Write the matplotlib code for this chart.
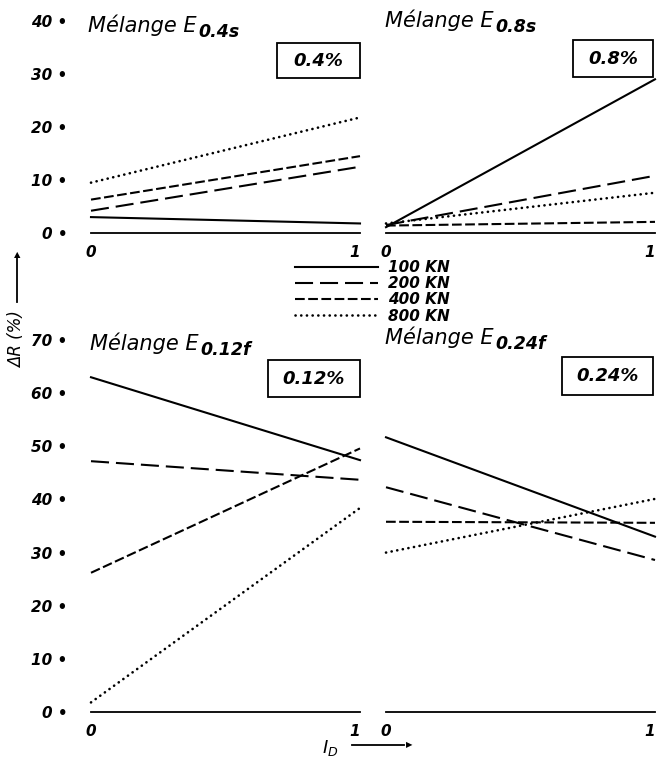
import numpy as np
import matplotlib.pyplot as plt
from matplotlib.patches import Rectangle

plt.rcParams['font.family'] = ['DejaVu Sans']
plt.rcParams['mathtext.fontset'] = 'custom'
plt.rcParams['mathtext.rm'] = 'DejaVu Sans:italic'
plt.rcParams['mathtext.it'] = 'DejaVu Sans:italic'
plt.rcParams['lines.scale_dashes'] = False

# valeurs de ΔR (%) pour I_D = 0 et I_D = 1
i_d = [0, 1]
charges = ['100 KN', '200 KN', '400 KN', '800 KN']
dr_e04s = [[3.0, 1.8], [4.2, 12.5], [6.3, 14.5], [9.5, 21.8]]
dr_e08s = [[1.1, 29.0], [1.5, 10.8], [1.4, 2.1], [1.8, 7.6]]
dr_e012f = [[63.0, 47.4], [47.2, 43.7], [26.2, 49.6], [1.8, 38.4]]
dr_e024f = [[51.7, 33.0], [42.3, 28.6], [35.8, 35.6], [30.0, 40.1]]

melanges = ['0.4s', '0.8s', '0.12f', '0.24f']
teneurs = ['0.4%', '0.8%', '0.12%', '0.24%']
yticks_haut = [0, 10, 20, 30, 40]
yticks_bas = [0, 10, 20, 30, 40, 50, 60, 70]

styles = ['-', (0, (13, 5)), (0, (7, 2.5)), (0, (0.1, 4.0))]

W, H = 658, 757
fig = plt.figure(figsize=(W / 100, H / 100), dpi=100)


def fx(x):
    return x / W


def fy(y):
    return 1 - y / H


def panneau(left, top_px, bot_px, ylim, data, yticks):
    ax = fig.add_axes([fx(left), fy(bot_px), 269 / W, (bot_px - top_px) / H])
    ax.set_xlim(0, 1)
    ax.set_ylim(*ylim)
    for s in ax.spines.values():
        s.set_visible(False)
    ax.plot([0, 1], [0, 0], color='black', lw=1.3, clip_on=False)
    lignes = []
    for vals, ls, lab in zip(data, styles, charges):
        pointille = ls == styles[3]
        l, = ax.plot(i_d, vals, color='black', lw=1.9 if pointille else 1.5,
                     linestyle=ls, dash_capstyle='round' if pointille else 'butt',
                     clip_on=False, label=lab)
        lignes.append(l)
    ax.set_xticks([0, 1])
    ax.set_xticklabels(['0', '1'], fontsize=11, fontweight='bold', style='italic')
    ax.get_xticklabels()[1].set_horizontalalignment('right')
    ax.tick_params(axis='x', length=0, pad=1)
    if yticks:
        ax.set_yticks(yticks)
        ax.set_yticklabels([f'{v} •' for v in yticks], fontsize=11,
                           fontweight='bold', style='italic')
        ax.tick_params(axis='y', length=0, pad=17)
    else:
        ax.set_yticks([])
    return ax, lignes


ax1, lignes = panneau(91, -0.2, 243.6, (-2, 44), dr_e04s, yticks_haut)
ax2, _ = panneau(386, -0.2, 243.6, (-2, 44), dr_e08s, None)
ax3, _ = panneau(91, 318.8, 722.6, (-2, 74), dr_e012f, yticks_bas)
ax4, _ = panneau(386, 318.8, 722.6, (-2, 74), dr_e024f, None)

# titres des mélanges : "Mélange E" puis l'indice en gras, un peu plus bas
titres = []
for (x, y) in [(88, 32), (385, 27), (90, 350), (385, 344)]:
    titres.append(fig.text(fx(x), fy(y), 'Mélange E', fontsize=15, style='italic',
                           va='baseline', ha='left'))
fig.canvas.draw()
r = fig.canvas.get_renderer()
for t, m in zip(titres, melanges):
    bb = t.get_window_extent(r)
    fig.text((bb.x1 + 2) / W, t.get_position()[1] - 5 / H, m, fontsize=12.5,
             fontweight='bold', style='italic', va='baseline', ha='left')

# cadres des teneurs
for (x0, y0, x1, y1), t in zip([(277, 43, 360, 78), (573, 40, 653, 77),
                               (268, 360, 360, 397), (562, 357, 653, 395)], teneurs):
    fig.add_artist(Rectangle((fx(x0), fy(y1)), (x1 - x0) / W, (y1 - y0) / H,
                             transform=fig.transFigure, fill=False, lw=1.3, ec='black'))
    fig.text(fx((x0 + x1) / 2), fy((y0 + y1) / 2), t, fontsize=13, fontweight='bold',
             style='italic', ha='center', va='center')

# légende des charges
fig.legend(handles=lignes, labels=charges, loc='upper left',
           bbox_to_anchor=(fx(295), fy(260)), frameon=False, borderpad=0,
           borderaxespad=0, handlelength=5.4, handletextpad=0.7, labelspacing=0.08,
           prop={'size': 11, 'style': 'italic', 'weight': 'bold'})

# axe vertical ΔR
fig.text(fx(17), fy(340), 'ΔR (%)', rotation=90, fontsize=12, style='italic',
         ha='center', va='center')
fig.add_artist(plt.Line2D([fx(17), fx(17)], [fy(302), fy(258)], color='black', lw=1.3))
fig.text(fx(17), fy(250), '▲', fontsize=6, ha='center', va='top')

# axe horizontal I_D
fig.text(fx(330), fy(748), r'$I_D$', fontsize=13, ha='center', va='center')
fig.add_artist(plt.Line2D([fx(352), fx(404)], [fy(745), fy(745)], color='black', lw=1.3))
fig.text(fx(412), fy(745), '▶', fontsize=6, ha='right', va='center')

fig.savefig('out.png', dpi=100, facecolor='white')
